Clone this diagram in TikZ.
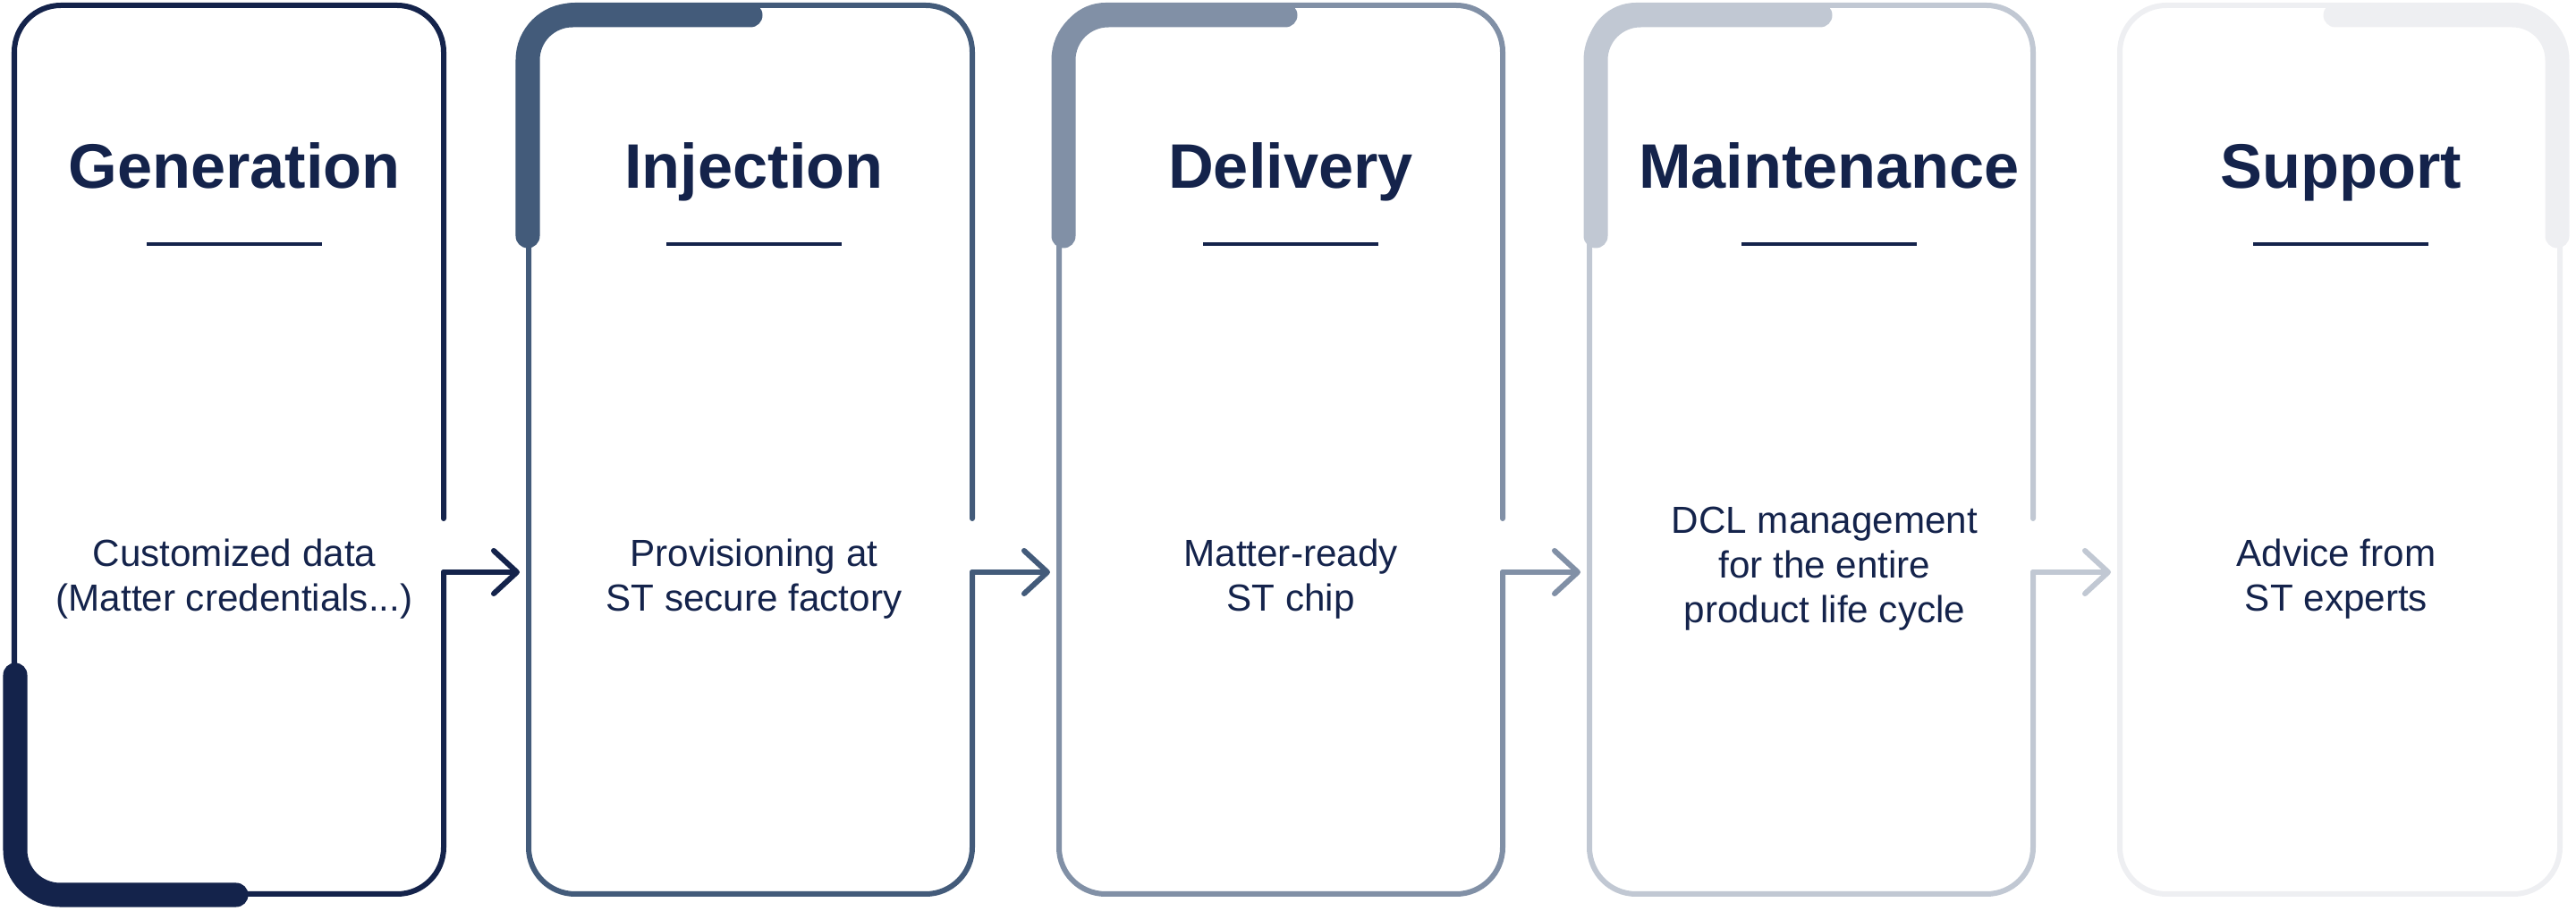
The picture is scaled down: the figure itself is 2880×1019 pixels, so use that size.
\documentclass[tikz,border=0pt]{standalone}
\usepackage{fontspec}
\setmainfont{Liberation Sans}
\usetikzlibrary{arrows.meta}
\definecolor{stA}{HTML}{14234B}
\definecolor{stB}{HTML}{435B7A}
\definecolor{stC}{HTML}{8190A6}
\definecolor{stD}{HTML}{C1C8D3}
\definecolor{stE}{HTML}{EEEFF2}
\tikzset{
	frame/.style={line width=0.06cm, line cap=round, line join=round, rounded corners=0.52cm},
	accent/.style={line width=0.27cm, line cap=round, rounded corners=0.5cm},
	flow/.style={line width=0.06cm, line cap=round, -{Straight Barb[length=0.26cm,width=0.48cm,round]}},
	phase/.style={font=\fontsize{20}{24}\selectfont\bfseries, text=stA, anchor=base},
	body/.style={font=\fontsize{12}{14.2}\selectfont, text=stA, align=center},
	rule/.style={line width=0.04cm, stA},
}
\begin{document}
\begin{tikzpicture}[x=0.01cm, y=-0.01cm]
		\useasboundingbox (0,0) rectangle (2880,1019);
		% outlines, open on the right where the arrow leaves
		\draw [frame, stA] (496,580) -- (496,6) -- (16,6) -- (16,1000) -- (496,1000) -- (496,640) coordinate (o1);
		\draw [frame, stB] (1087,580) -- (1087,6) -- (591,6) -- (591,1000) -- (1087,1000) -- (1087,640) coordinate (o2);
		\draw [frame, stC] (1680,580) -- (1680,6) -- (1184,6) -- (1184,1000) -- (1680,1000) -- (1680,640) coordinate (o3);
		\draw [frame, stD] (2273,580) -- (2273,6) -- (1777,6) -- (1777,1000) -- (2273,1000) -- (2273,640) coordinate (o4);
		\draw [frame, stE] (2370,6) rectangle (2862,1000);
		% heavy accents
		\draw [accent, stA] (17,755) -- (17,1001) -- (264,1001);
		\draw [accent, stB] (590,264) -- (590,17) -- (839,17);
		\draw [accent, stC] (1189,264) -- (1189,17) -- (1437,17);
		\draw [accent, stD] (1784,264) -- (1784,17) -- (2035,17);
		\draw [accent, stE] (2611,17) -- (2859,17) -- (2859,264);
		% arrows
		\coordinate (i2) at (581,640);
		\coordinate (i3) at (1174,640);
		\coordinate (i4) at (1767,640);
		\coordinate (i5) at (2360,640);
		\draw [flow, stA] (o1) -- (i2);
		\draw [flow, stB] (o2) -- (i3);
		\draw [flow, stC] (o3) -- (i4);
		\draw [flow, stD] (o4) -- (i5);
		% titles and rules
		\foreach \c/\ttl [count=\i] in {262/Generation, 843/Injection, 1443/Delivery, 2045/Maintenance, 2617/Support} {
			\node [phase] (t\i) at (\c,211) {\ttl};
			\draw [rule] (\c-98,273) -- (\c+98,273);
		}
		\node [body] (d1) at (262,648) {Customized data\\(Matter credentials...)};
		\node [body] (d2) at (843,648) {Provisioning at\\ST secure factory};
		\node [body] (d3) at (1443,648) {Matter-ready\\ST chip};
		\node [body] (d4) at (2040,636) {DCL management\\for the entire\\product life cycle};
		\node [body] (d5) at (2612,648) {Advice from\\ST experts};
\end{tikzpicture}
\end{document}
